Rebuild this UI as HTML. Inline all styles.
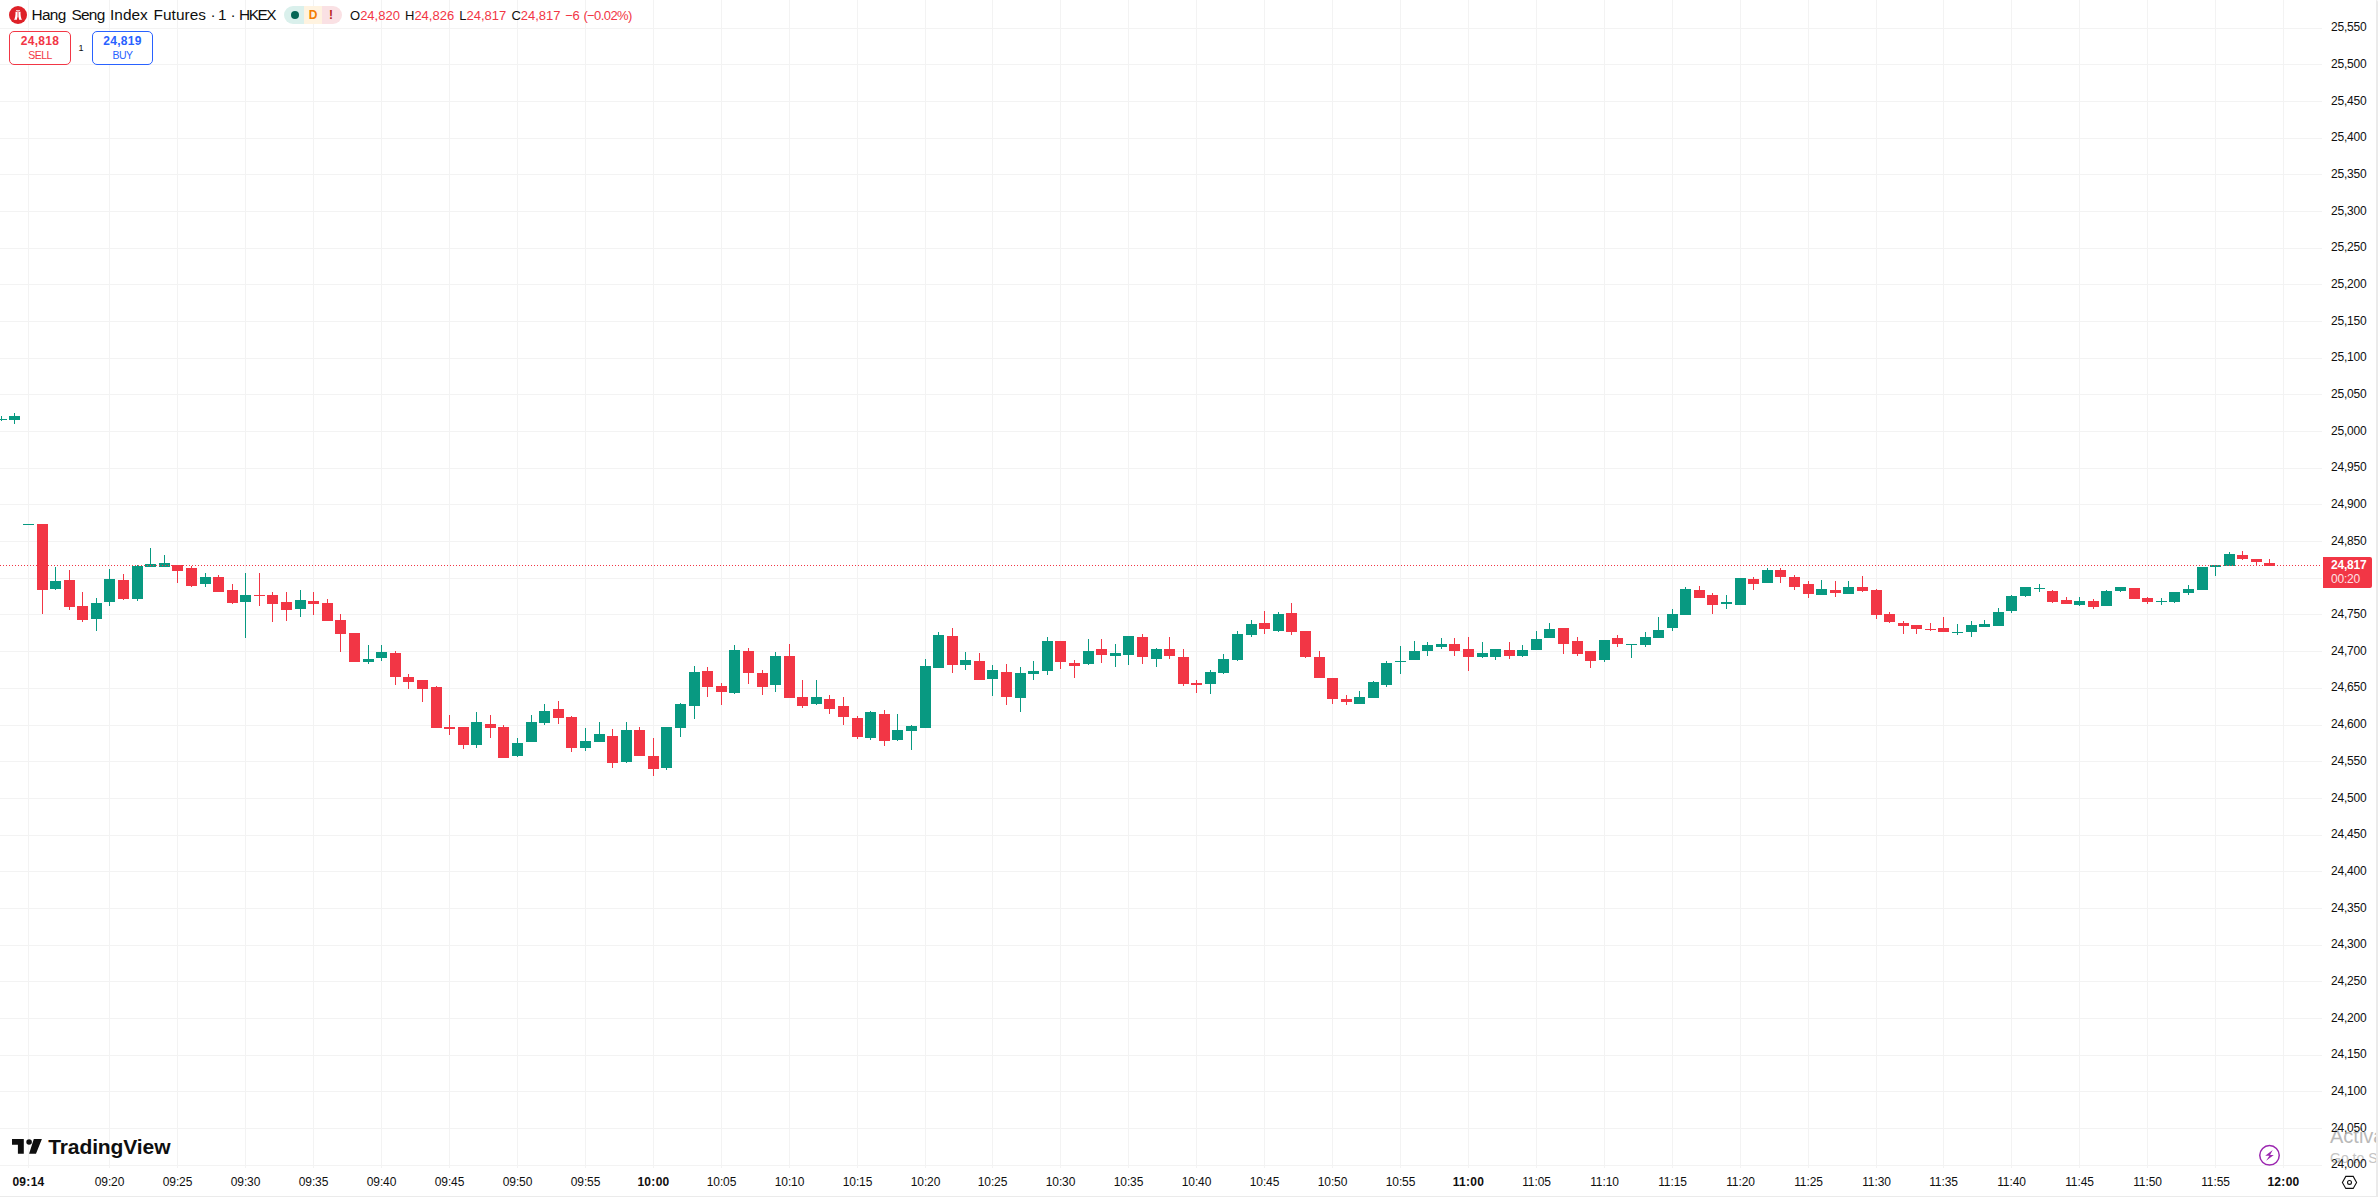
<!DOCTYPE html>
<html><head><meta charset="utf-8"><title>HSI1! chart</title>
<style>
html,body{margin:0;padding:0;background:#fff;}
body{width:2378px;height:1199px;overflow:hidden;position:relative;font-family:"Liberation Sans",sans-serif;color:#0f0f0f;}
#frame{position:absolute;left:0;top:0;width:2376px;height:1196px;background:#fff;border-right:2px solid #ebebeb;border-bottom:1px solid #ebebeb;border-top-right-radius:2px;overflow:hidden;}
svg{position:absolute;left:0;top:0;}
.pl{position:absolute;left:2321.5px;width:45px;text-align:right;font-size:12px;line-height:16px;height:16px;letter-spacing:-0.2px;white-space:nowrap;}
.tl{position:absolute;top:1174px;width:60px;text-align:center;font-size:12px;line-height:16px;white-space:nowrap;letter-spacing:-0.1px;}
.tl.b{font-weight:bold;letter-spacing:0.3px;}
#axisbg{position:absolute;left:2322px;top:0;width:54px;height:1168px;background:#fff;}
#timebg{position:absolute;left:0;top:1168px;width:2376px;height:28px;background:#fff;}
#last{position:absolute;left:2323px;top:557px;width:49px;height:31px;background:#f23645;color:#fff;border-radius:0 2px 2px 0;font-size:12px;line-height:14px;}
#last div{position:absolute;left:8px;white-space:nowrap;letter-spacing:-0.2px;}
#title{position:absolute;left:31.5px;top:6.4px;font-size:15.4px;line-height:18px;white-space:nowrap;}
#title span{position:absolute;top:0;}
#ohlc span{position:absolute;top:0;}
#logo{position:absolute;left:9px;top:6px;}
#pill{position:absolute;left:284px;top:6px;width:58px;height:18px;border-radius:9px;overflow:hidden;display:flex;}
#pill div{height:18px;position:relative;}
#ohlc{position:absolute;left:350px;top:8px;font-size:13px;line-height:16px;white-space:nowrap;color:#f23645;}
#ohlc i{font-style:normal;color:#0f0f0f;}
.btn{position:absolute;top:31px;height:32px;width:60px;border:1px solid;border-radius:5px;text-align:center;background:#fff;}
.btn .p{font-size:12px;line-height:14px;margin-top:2px;font-weight:bold;letter-spacing:0.3px;}
.btn .s{font-size:10.5px;line-height:12px;margin-top:0.5px;letter-spacing:-0.5px;}
#qty{position:absolute;left:75.500px;top:41.500px;width:11px;text-align:center;font-size:9px;line-height:12px;}
#tv{position:absolute;left:12px;top:1136px;height:22px;}
#tvt{position:absolute;left:48.2px;top:1134.6px;font-size:21px;line-height:24px;font-weight:bold;color:#0f0f0f;white-space:nowrap;letter-spacing:-0.1px;}
#wm1{position:absolute;left:2330px;top:1123px;font-size:20px;line-height:26px;color:#b9b9b9;white-space:nowrap;}
#wm2{position:absolute;left:2330px;top:1148.5px;font-size:14px;line-height:18px;color:#c4c4c4;white-space:nowrap;}
</style></head><body>
<div id="frame">
<svg width="2378" height="1199" viewBox="0 0 2378 1199" shape-rendering="crispEdges">
<rect x="0" y="28" width="2322" height="1" fill="#f3f3f3"/>
<rect x="0" y="64" width="2322" height="1" fill="#f3f3f3"/>
<rect x="0" y="101" width="2322" height="1" fill="#f3f3f3"/>
<rect x="0" y="138" width="2322" height="1" fill="#f3f3f3"/>
<rect x="0" y="174" width="2322" height="1" fill="#f3f3f3"/>
<rect x="0" y="211" width="2322" height="1" fill="#f3f3f3"/>
<rect x="0" y="248" width="2322" height="1" fill="#f3f3f3"/>
<rect x="0" y="284" width="2322" height="1" fill="#f3f3f3"/>
<rect x="0" y="321" width="2322" height="1" fill="#f3f3f3"/>
<rect x="0" y="358" width="2322" height="1" fill="#f3f3f3"/>
<rect x="0" y="394" width="2322" height="1" fill="#f3f3f3"/>
<rect x="0" y="431" width="2322" height="1" fill="#f3f3f3"/>
<rect x="0" y="468" width="2322" height="1" fill="#f3f3f3"/>
<rect x="0" y="504" width="2322" height="1" fill="#f3f3f3"/>
<rect x="0" y="541" width="2322" height="1" fill="#f3f3f3"/>
<rect x="0" y="578" width="2322" height="1" fill="#f3f3f3"/>
<rect x="0" y="614" width="2322" height="1" fill="#f3f3f3"/>
<rect x="0" y="651" width="2322" height="1" fill="#f3f3f3"/>
<rect x="0" y="688" width="2322" height="1" fill="#f3f3f3"/>
<rect x="0" y="725" width="2322" height="1" fill="#f3f3f3"/>
<rect x="0" y="761" width="2322" height="1" fill="#f3f3f3"/>
<rect x="0" y="798" width="2322" height="1" fill="#f3f3f3"/>
<rect x="0" y="835" width="2322" height="1" fill="#f3f3f3"/>
<rect x="0" y="871" width="2322" height="1" fill="#f3f3f3"/>
<rect x="0" y="908" width="2322" height="1" fill="#f3f3f3"/>
<rect x="0" y="945" width="2322" height="1" fill="#f3f3f3"/>
<rect x="0" y="981" width="2322" height="1" fill="#f3f3f3"/>
<rect x="0" y="1018" width="2322" height="1" fill="#f3f3f3"/>
<rect x="0" y="1055" width="2322" height="1" fill="#f3f3f3"/>
<rect x="0" y="1091" width="2322" height="1" fill="#f3f3f3"/>
<rect x="0" y="1128" width="2322" height="1" fill="#f3f3f3"/>
<rect x="0" y="1165" width="2322" height="1" fill="#f3f3f3"/>
<rect x="28" y="0" width="1" height="1168" fill="#f3f3f3"/>
<rect x="109" y="0" width="1" height="1168" fill="#f3f3f3"/>
<rect x="177" y="0" width="1" height="1168" fill="#f3f3f3"/>
<rect x="245" y="0" width="1" height="1168" fill="#f3f3f3"/>
<rect x="313" y="0" width="1" height="1168" fill="#f3f3f3"/>
<rect x="381" y="0" width="1" height="1168" fill="#f3f3f3"/>
<rect x="449" y="0" width="1" height="1168" fill="#f3f3f3"/>
<rect x="517" y="0" width="1" height="1168" fill="#f3f3f3"/>
<rect x="585" y="0" width="1" height="1168" fill="#f3f3f3"/>
<rect x="653" y="0" width="1" height="1168" fill="#f3f3f3"/>
<rect x="721" y="0" width="1" height="1168" fill="#f3f3f3"/>
<rect x="789" y="0" width="1" height="1168" fill="#f3f3f3"/>
<rect x="857" y="0" width="1" height="1168" fill="#f3f3f3"/>
<rect x="925" y="0" width="1" height="1168" fill="#f3f3f3"/>
<rect x="992" y="0" width="1" height="1168" fill="#f3f3f3"/>
<rect x="1060" y="0" width="1" height="1168" fill="#f3f3f3"/>
<rect x="1128" y="0" width="1" height="1168" fill="#f3f3f3"/>
<rect x="1196" y="0" width="1" height="1168" fill="#f3f3f3"/>
<rect x="1264" y="0" width="1" height="1168" fill="#f3f3f3"/>
<rect x="1332" y="0" width="1" height="1168" fill="#f3f3f3"/>
<rect x="1400" y="0" width="1" height="1168" fill="#f3f3f3"/>
<rect x="1468" y="0" width="1" height="1168" fill="#f3f3f3"/>
<rect x="1536" y="0" width="1" height="1168" fill="#f3f3f3"/>
<rect x="1604" y="0" width="1" height="1168" fill="#f3f3f3"/>
<rect x="1672" y="0" width="1" height="1168" fill="#f3f3f3"/>
<rect x="1740" y="0" width="1" height="1168" fill="#f3f3f3"/>
<rect x="1808" y="0" width="1" height="1168" fill="#f3f3f3"/>
<rect x="1876" y="0" width="1" height="1168" fill="#f3f3f3"/>
<rect x="1943" y="0" width="1" height="1168" fill="#f3f3f3"/>
<rect x="2011" y="0" width="1" height="1168" fill="#f3f3f3"/>
<rect x="2079" y="0" width="1" height="1168" fill="#f3f3f3"/>
<rect x="2147" y="0" width="1" height="1168" fill="#f3f3f3"/>
<rect x="2215" y="0" width="1" height="1168" fill="#f3f3f3"/>
<rect x="2283" y="0" width="1" height="1168" fill="#f3f3f3"/>
<rect x="1" y="416" width="1" height="5" fill="#089981"/>
<rect x="-4" y="419" width="11" height="1" fill="#089981"/>
<rect x="14" y="413" width="1" height="11" fill="#089981"/>
<rect x="9" y="416" width="11" height="4" fill="#089981"/>
<rect x="28" y="524" width="1" height="1" fill="#089981"/>
<rect x="23" y="524" width="11" height="1" fill="#089981"/>
<rect x="42" y="524" width="1" height="90" fill="#f23645"/>
<rect x="37" y="524" width="11" height="66" fill="#f23645"/>
<rect x="55" y="567" width="1" height="23" fill="#089981"/>
<rect x="50" y="581" width="11" height="8" fill="#089981"/>
<rect x="69" y="570" width="1" height="40" fill="#f23645"/>
<rect x="64" y="580" width="11" height="27" fill="#f23645"/>
<rect x="82" y="592" width="1" height="30" fill="#f23645"/>
<rect x="77" y="606" width="11" height="14" fill="#f23645"/>
<rect x="96" y="598" width="1" height="33" fill="#089981"/>
<rect x="91" y="603" width="11" height="16" fill="#089981"/>
<rect x="109" y="569" width="1" height="37" fill="#089981"/>
<rect x="104" y="579" width="11" height="23" fill="#089981"/>
<rect x="123" y="574" width="1" height="26" fill="#f23645"/>
<rect x="118" y="580" width="11" height="19" fill="#f23645"/>
<rect x="137" y="565" width="1" height="36" fill="#089981"/>
<rect x="132" y="566" width="11" height="33" fill="#089981"/>
<rect x="150" y="548" width="1" height="19" fill="#089981"/>
<rect x="145" y="564" width="11" height="3" fill="#089981"/>
<rect x="164" y="555" width="1" height="12" fill="#089981"/>
<rect x="159" y="563" width="11" height="4" fill="#089981"/>
<rect x="177" y="565" width="1" height="18" fill="#f23645"/>
<rect x="172" y="565" width="11" height="6" fill="#f23645"/>
<rect x="191" y="566" width="1" height="21" fill="#f23645"/>
<rect x="186" y="568" width="11" height="18" fill="#f23645"/>
<rect x="205" y="573" width="1" height="14" fill="#089981"/>
<rect x="200" y="577" width="11" height="7" fill="#089981"/>
<rect x="218" y="575" width="1" height="17" fill="#f23645"/>
<rect x="213" y="577" width="11" height="15" fill="#f23645"/>
<rect x="232" y="584" width="1" height="20" fill="#f23645"/>
<rect x="227" y="590" width="11" height="13" fill="#f23645"/>
<rect x="245" y="573" width="1" height="65" fill="#089981"/>
<rect x="240" y="595" width="11" height="7" fill="#089981"/>
<rect x="259" y="573" width="1" height="33" fill="#f23645"/>
<rect x="254" y="595" width="11" height="1" fill="#f23645"/>
<rect x="272" y="592" width="1" height="30" fill="#f23645"/>
<rect x="267" y="595" width="11" height="9" fill="#f23645"/>
<rect x="286" y="592" width="1" height="29" fill="#f23645"/>
<rect x="281" y="602" width="11" height="8" fill="#f23645"/>
<rect x="300" y="590" width="1" height="27" fill="#089981"/>
<rect x="295" y="600" width="11" height="9" fill="#089981"/>
<rect x="313" y="592" width="1" height="23" fill="#f23645"/>
<rect x="308" y="601" width="11" height="3" fill="#f23645"/>
<rect x="327" y="599" width="1" height="22" fill="#f23645"/>
<rect x="322" y="603" width="11" height="18" fill="#f23645"/>
<rect x="340" y="614" width="1" height="38" fill="#f23645"/>
<rect x="335" y="620" width="11" height="14" fill="#f23645"/>
<rect x="354" y="633" width="1" height="29" fill="#f23645"/>
<rect x="349" y="633" width="11" height="29" fill="#f23645"/>
<rect x="368" y="645" width="1" height="19" fill="#089981"/>
<rect x="363" y="659" width="11" height="3" fill="#089981"/>
<rect x="381" y="645" width="1" height="16" fill="#089981"/>
<rect x="376" y="652" width="11" height="6" fill="#089981"/>
<rect x="395" y="651" width="1" height="34" fill="#f23645"/>
<rect x="390" y="653" width="11" height="24" fill="#f23645"/>
<rect x="408" y="674" width="1" height="15" fill="#f23645"/>
<rect x="403" y="677" width="11" height="5" fill="#f23645"/>
<rect x="422" y="680" width="1" height="22" fill="#f23645"/>
<rect x="417" y="680" width="11" height="9" fill="#f23645"/>
<rect x="436" y="686" width="1" height="42" fill="#f23645"/>
<rect x="431" y="687" width="11" height="41" fill="#f23645"/>
<rect x="449" y="715" width="1" height="20" fill="#f23645"/>
<rect x="444" y="727" width="11" height="2" fill="#f23645"/>
<rect x="463" y="727" width="1" height="22" fill="#f23645"/>
<rect x="458" y="727" width="11" height="18" fill="#f23645"/>
<rect x="476" y="712" width="1" height="36" fill="#089981"/>
<rect x="471" y="722" width="11" height="23" fill="#089981"/>
<rect x="490" y="715" width="1" height="23" fill="#f23645"/>
<rect x="485" y="724" width="11" height="4" fill="#f23645"/>
<rect x="503" y="725" width="1" height="33" fill="#f23645"/>
<rect x="498" y="727" width="11" height="31" fill="#f23645"/>
<rect x="517" y="738" width="1" height="19" fill="#089981"/>
<rect x="512" y="743" width="11" height="13" fill="#089981"/>
<rect x="531" y="715" width="1" height="27" fill="#089981"/>
<rect x="526" y="722" width="11" height="20" fill="#089981"/>
<rect x="544" y="704" width="1" height="21" fill="#089981"/>
<rect x="539" y="711" width="11" height="12" fill="#089981"/>
<rect x="558" y="701" width="1" height="23" fill="#f23645"/>
<rect x="553" y="709" width="11" height="9" fill="#f23645"/>
<rect x="571" y="716" width="1" height="36" fill="#f23645"/>
<rect x="566" y="717" width="11" height="31" fill="#f23645"/>
<rect x="585" y="728" width="1" height="23" fill="#089981"/>
<rect x="580" y="741" width="11" height="7" fill="#089981"/>
<rect x="599" y="722" width="1" height="20" fill="#089981"/>
<rect x="594" y="734" width="11" height="8" fill="#089981"/>
<rect x="612" y="729" width="1" height="39" fill="#f23645"/>
<rect x="607" y="736" width="11" height="27" fill="#f23645"/>
<rect x="626" y="722" width="1" height="41" fill="#089981"/>
<rect x="621" y="730" width="11" height="32" fill="#089981"/>
<rect x="639" y="727" width="1" height="29" fill="#f23645"/>
<rect x="634" y="730" width="11" height="26" fill="#f23645"/>
<rect x="653" y="738" width="1" height="38" fill="#f23645"/>
<rect x="648" y="756" width="11" height="13" fill="#f23645"/>
<rect x="666" y="727" width="1" height="43" fill="#089981"/>
<rect x="661" y="727" width="11" height="41" fill="#089981"/>
<rect x="680" y="703" width="1" height="34" fill="#089981"/>
<rect x="675" y="704" width="11" height="24" fill="#089981"/>
<rect x="694" y="666" width="1" height="53" fill="#089981"/>
<rect x="689" y="672" width="11" height="34" fill="#089981"/>
<rect x="707" y="667" width="1" height="30" fill="#f23645"/>
<rect x="702" y="671" width="11" height="16" fill="#f23645"/>
<rect x="721" y="683" width="1" height="22" fill="#f23645"/>
<rect x="716" y="686" width="11" height="6" fill="#f23645"/>
<rect x="734" y="645" width="1" height="49" fill="#089981"/>
<rect x="729" y="650" width="11" height="43" fill="#089981"/>
<rect x="748" y="648" width="1" height="36" fill="#f23645"/>
<rect x="743" y="651" width="11" height="22" fill="#f23645"/>
<rect x="762" y="670" width="1" height="25" fill="#f23645"/>
<rect x="757" y="673" width="11" height="14" fill="#f23645"/>
<rect x="775" y="652" width="1" height="40" fill="#089981"/>
<rect x="770" y="656" width="11" height="29" fill="#089981"/>
<rect x="789" y="644" width="1" height="54" fill="#f23645"/>
<rect x="784" y="656" width="11" height="42" fill="#f23645"/>
<rect x="802" y="680" width="1" height="28" fill="#f23645"/>
<rect x="797" y="697" width="11" height="9" fill="#f23645"/>
<rect x="816" y="680" width="1" height="25" fill="#089981"/>
<rect x="811" y="697" width="11" height="7" fill="#089981"/>
<rect x="829" y="695" width="1" height="19" fill="#f23645"/>
<rect x="824" y="699" width="11" height="10" fill="#f23645"/>
<rect x="843" y="697" width="1" height="28" fill="#f23645"/>
<rect x="838" y="706" width="11" height="11" fill="#f23645"/>
<rect x="857" y="716" width="1" height="23" fill="#f23645"/>
<rect x="852" y="718" width="11" height="19" fill="#f23645"/>
<rect x="870" y="711" width="1" height="29" fill="#089981"/>
<rect x="865" y="712" width="11" height="26" fill="#089981"/>
<rect x="884" y="710" width="1" height="36" fill="#f23645"/>
<rect x="879" y="714" width="11" height="27" fill="#f23645"/>
<rect x="897" y="714" width="1" height="27" fill="#089981"/>
<rect x="892" y="730" width="11" height="10" fill="#089981"/>
<rect x="911" y="725" width="1" height="25" fill="#089981"/>
<rect x="906" y="726" width="11" height="5" fill="#089981"/>
<rect x="925" y="659" width="1" height="69" fill="#089981"/>
<rect x="920" y="666" width="11" height="62" fill="#089981"/>
<rect x="938" y="632" width="1" height="36" fill="#089981"/>
<rect x="933" y="635" width="11" height="33" fill="#089981"/>
<rect x="952" y="628" width="1" height="45" fill="#f23645"/>
<rect x="947" y="636" width="11" height="29" fill="#f23645"/>
<rect x="965" y="652" width="1" height="18" fill="#089981"/>
<rect x="960" y="660" width="11" height="5" fill="#089981"/>
<rect x="979" y="653" width="1" height="27" fill="#f23645"/>
<rect x="974" y="661" width="11" height="19" fill="#f23645"/>
<rect x="992" y="665" width="1" height="31" fill="#089981"/>
<rect x="987" y="670" width="11" height="9" fill="#089981"/>
<rect x="1006" y="664" width="1" height="41" fill="#f23645"/>
<rect x="1001" y="672" width="11" height="25" fill="#f23645"/>
<rect x="1020" y="667" width="1" height="45" fill="#089981"/>
<rect x="1015" y="673" width="11" height="25" fill="#089981"/>
<rect x="1033" y="661" width="1" height="19" fill="#089981"/>
<rect x="1028" y="671" width="11" height="3" fill="#089981"/>
<rect x="1047" y="637" width="1" height="38" fill="#089981"/>
<rect x="1042" y="641" width="11" height="30" fill="#089981"/>
<rect x="1060" y="641" width="1" height="28" fill="#f23645"/>
<rect x="1055" y="641" width="11" height="21" fill="#f23645"/>
<rect x="1074" y="660" width="1" height="18" fill="#f23645"/>
<rect x="1069" y="663" width="11" height="3" fill="#f23645"/>
<rect x="1088" y="639" width="1" height="26" fill="#089981"/>
<rect x="1083" y="651" width="11" height="13" fill="#089981"/>
<rect x="1101" y="639" width="1" height="24" fill="#f23645"/>
<rect x="1096" y="649" width="11" height="6" fill="#f23645"/>
<rect x="1115" y="644" width="1" height="23" fill="#089981"/>
<rect x="1110" y="653" width="11" height="3" fill="#089981"/>
<rect x="1128" y="636" width="1" height="29" fill="#089981"/>
<rect x="1123" y="636" width="11" height="19" fill="#089981"/>
<rect x="1142" y="634" width="1" height="30" fill="#f23645"/>
<rect x="1137" y="637" width="11" height="20" fill="#f23645"/>
<rect x="1156" y="648" width="1" height="19" fill="#089981"/>
<rect x="1151" y="649" width="11" height="10" fill="#089981"/>
<rect x="1169" y="637" width="1" height="22" fill="#f23645"/>
<rect x="1164" y="649" width="11" height="7" fill="#f23645"/>
<rect x="1183" y="649" width="1" height="37" fill="#f23645"/>
<rect x="1178" y="657" width="11" height="27" fill="#f23645"/>
<rect x="1196" y="680" width="1" height="13" fill="#f23645"/>
<rect x="1191" y="683" width="11" height="2" fill="#f23645"/>
<rect x="1210" y="670" width="1" height="24" fill="#089981"/>
<rect x="1205" y="672" width="11" height="12" fill="#089981"/>
<rect x="1223" y="654" width="1" height="20" fill="#089981"/>
<rect x="1218" y="659" width="11" height="14" fill="#089981"/>
<rect x="1237" y="631" width="1" height="30" fill="#089981"/>
<rect x="1232" y="634" width="11" height="26" fill="#089981"/>
<rect x="1251" y="620" width="1" height="17" fill="#089981"/>
<rect x="1246" y="624" width="11" height="11" fill="#089981"/>
<rect x="1264" y="611" width="1" height="23" fill="#f23645"/>
<rect x="1259" y="623" width="11" height="6" fill="#f23645"/>
<rect x="1278" y="612" width="1" height="20" fill="#089981"/>
<rect x="1273" y="614" width="11" height="17" fill="#089981"/>
<rect x="1291" y="603" width="1" height="32" fill="#f23645"/>
<rect x="1286" y="613" width="11" height="19" fill="#f23645"/>
<rect x="1305" y="631" width="1" height="27" fill="#f23645"/>
<rect x="1300" y="631" width="11" height="26" fill="#f23645"/>
<rect x="1319" y="651" width="1" height="27" fill="#f23645"/>
<rect x="1314" y="657" width="11" height="21" fill="#f23645"/>
<rect x="1332" y="678" width="1" height="26" fill="#f23645"/>
<rect x="1327" y="678" width="11" height="21" fill="#f23645"/>
<rect x="1346" y="695" width="1" height="10" fill="#f23645"/>
<rect x="1341" y="699" width="11" height="3" fill="#f23645"/>
<rect x="1359" y="691" width="1" height="13" fill="#089981"/>
<rect x="1354" y="697" width="11" height="7" fill="#089981"/>
<rect x="1373" y="681" width="1" height="17" fill="#089981"/>
<rect x="1368" y="682" width="11" height="16" fill="#089981"/>
<rect x="1386" y="661" width="1" height="26" fill="#089981"/>
<rect x="1381" y="663" width="11" height="22" fill="#089981"/>
<rect x="1400" y="646" width="1" height="28" fill="#089981"/>
<rect x="1395" y="661" width="11" height="1" fill="#089981"/>
<rect x="1414" y="641" width="1" height="19" fill="#089981"/>
<rect x="1409" y="651" width="11" height="9" fill="#089981"/>
<rect x="1427" y="642" width="1" height="14" fill="#089981"/>
<rect x="1422" y="645" width="11" height="6" fill="#089981"/>
<rect x="1441" y="638" width="1" height="11" fill="#089981"/>
<rect x="1436" y="644" width="11" height="3" fill="#089981"/>
<rect x="1454" y="638" width="1" height="18" fill="#f23645"/>
<rect x="1449" y="644" width="11" height="7" fill="#f23645"/>
<rect x="1468" y="637" width="1" height="34" fill="#f23645"/>
<rect x="1463" y="649" width="11" height="8" fill="#f23645"/>
<rect x="1482" y="642" width="1" height="16" fill="#089981"/>
<rect x="1477" y="653" width="11" height="4" fill="#089981"/>
<rect x="1495" y="649" width="1" height="11" fill="#089981"/>
<rect x="1490" y="649" width="11" height="8" fill="#089981"/>
<rect x="1509" y="642" width="1" height="17" fill="#f23645"/>
<rect x="1504" y="650" width="11" height="6" fill="#f23645"/>
<rect x="1522" y="645" width="1" height="12" fill="#089981"/>
<rect x="1517" y="650" width="11" height="6" fill="#089981"/>
<rect x="1536" y="631" width="1" height="19" fill="#089981"/>
<rect x="1531" y="639" width="11" height="11" fill="#089981"/>
<rect x="1549" y="623" width="1" height="15" fill="#089981"/>
<rect x="1544" y="629" width="11" height="9" fill="#089981"/>
<rect x="1563" y="628" width="1" height="26" fill="#f23645"/>
<rect x="1558" y="628" width="11" height="16" fill="#f23645"/>
<rect x="1577" y="637" width="1" height="19" fill="#f23645"/>
<rect x="1572" y="641" width="11" height="13" fill="#f23645"/>
<rect x="1590" y="651" width="1" height="17" fill="#f23645"/>
<rect x="1585" y="651" width="11" height="10" fill="#f23645"/>
<rect x="1604" y="640" width="1" height="22" fill="#089981"/>
<rect x="1599" y="640" width="11" height="20" fill="#089981"/>
<rect x="1617" y="635" width="1" height="12" fill="#f23645"/>
<rect x="1612" y="638" width="11" height="6" fill="#f23645"/>
<rect x="1631" y="644" width="1" height="14" fill="#089981"/>
<rect x="1626" y="644" width="11" height="1" fill="#089981"/>
<rect x="1645" y="632" width="1" height="15" fill="#089981"/>
<rect x="1640" y="637" width="11" height="8" fill="#089981"/>
<rect x="1658" y="617" width="1" height="21" fill="#089981"/>
<rect x="1653" y="630" width="11" height="8" fill="#089981"/>
<rect x="1672" y="609" width="1" height="22" fill="#089981"/>
<rect x="1667" y="614" width="11" height="14" fill="#089981"/>
<rect x="1685" y="587" width="1" height="28" fill="#089981"/>
<rect x="1680" y="589" width="11" height="26" fill="#089981"/>
<rect x="1699" y="586" width="1" height="12" fill="#f23645"/>
<rect x="1694" y="590" width="11" height="8" fill="#f23645"/>
<rect x="1712" y="593" width="1" height="21" fill="#f23645"/>
<rect x="1707" y="595" width="11" height="10" fill="#f23645"/>
<rect x="1726" y="595" width="1" height="14" fill="#089981"/>
<rect x="1721" y="602" width="11" height="2" fill="#089981"/>
<rect x="1740" y="578" width="1" height="27" fill="#089981"/>
<rect x="1735" y="578" width="11" height="27" fill="#089981"/>
<rect x="1753" y="577" width="1" height="13" fill="#f23645"/>
<rect x="1748" y="579" width="11" height="5" fill="#f23645"/>
<rect x="1767" y="568" width="1" height="15" fill="#089981"/>
<rect x="1762" y="570" width="11" height="13" fill="#089981"/>
<rect x="1780" y="568" width="1" height="15" fill="#f23645"/>
<rect x="1775" y="570" width="11" height="7" fill="#f23645"/>
<rect x="1794" y="575" width="1" height="15" fill="#f23645"/>
<rect x="1789" y="577" width="11" height="10" fill="#f23645"/>
<rect x="1808" y="581" width="1" height="17" fill="#f23645"/>
<rect x="1803" y="584" width="11" height="10" fill="#f23645"/>
<rect x="1821" y="580" width="1" height="15" fill="#089981"/>
<rect x="1816" y="589" width="11" height="6" fill="#089981"/>
<rect x="1835" y="581" width="1" height="16" fill="#f23645"/>
<rect x="1830" y="590" width="11" height="3" fill="#f23645"/>
<rect x="1848" y="581" width="1" height="13" fill="#089981"/>
<rect x="1843" y="587" width="11" height="7" fill="#089981"/>
<rect x="1862" y="576" width="1" height="16" fill="#f23645"/>
<rect x="1857" y="587" width="11" height="4" fill="#f23645"/>
<rect x="1876" y="589" width="1" height="30" fill="#f23645"/>
<rect x="1871" y="590" width="11" height="25" fill="#f23645"/>
<rect x="1889" y="612" width="1" height="11" fill="#f23645"/>
<rect x="1884" y="614" width="11" height="8" fill="#f23645"/>
<rect x="1903" y="621" width="1" height="13" fill="#f23645"/>
<rect x="1898" y="623" width="11" height="3" fill="#f23645"/>
<rect x="1916" y="625" width="1" height="9" fill="#f23645"/>
<rect x="1911" y="625" width="11" height="4" fill="#f23645"/>
<rect x="1930" y="623" width="1" height="8" fill="#f23645"/>
<rect x="1925" y="629" width="11" height="1" fill="#f23645"/>
<rect x="1943" y="617" width="1" height="15" fill="#f23645"/>
<rect x="1938" y="628" width="11" height="4" fill="#f23645"/>
<rect x="1957" y="624" width="1" height="11" fill="#089981"/>
<rect x="1952" y="632" width="11" height="1" fill="#089981"/>
<rect x="1971" y="621" width="1" height="16" fill="#089981"/>
<rect x="1966" y="625" width="11" height="7" fill="#089981"/>
<rect x="1984" y="620" width="1" height="7" fill="#089981"/>
<rect x="1979" y="624" width="11" height="3" fill="#089981"/>
<rect x="1998" y="608" width="1" height="18" fill="#089981"/>
<rect x="1993" y="612" width="11" height="14" fill="#089981"/>
<rect x="2011" y="595" width="1" height="18" fill="#089981"/>
<rect x="2006" y="596" width="11" height="15" fill="#089981"/>
<rect x="2025" y="587" width="1" height="10" fill="#089981"/>
<rect x="2020" y="587" width="11" height="9" fill="#089981"/>
<rect x="2039" y="584" width="1" height="8" fill="#089981"/>
<rect x="2034" y="588" width="11" height="1" fill="#089981"/>
<rect x="2052" y="590" width="1" height="13" fill="#f23645"/>
<rect x="2047" y="591" width="11" height="11" fill="#f23645"/>
<rect x="2066" y="597" width="1" height="7" fill="#f23645"/>
<rect x="2061" y="600" width="11" height="4" fill="#f23645"/>
<rect x="2079" y="597" width="1" height="9" fill="#089981"/>
<rect x="2074" y="601" width="11" height="4" fill="#089981"/>
<rect x="2093" y="599" width="1" height="10" fill="#f23645"/>
<rect x="2088" y="601" width="11" height="6" fill="#f23645"/>
<rect x="2106" y="590" width="1" height="16" fill="#089981"/>
<rect x="2101" y="591" width="11" height="15" fill="#089981"/>
<rect x="2120" y="587" width="1" height="5" fill="#089981"/>
<rect x="2115" y="587" width="11" height="4" fill="#089981"/>
<rect x="2134" y="588" width="1" height="11" fill="#f23645"/>
<rect x="2129" y="588" width="11" height="11" fill="#f23645"/>
<rect x="2147" y="597" width="1" height="7" fill="#f23645"/>
<rect x="2142" y="598" width="11" height="4" fill="#f23645"/>
<rect x="2161" y="598" width="1" height="7" fill="#089981"/>
<rect x="2156" y="601" width="11" height="1" fill="#089981"/>
<rect x="2174" y="592" width="1" height="11" fill="#089981"/>
<rect x="2169" y="592" width="11" height="10" fill="#089981"/>
<rect x="2188" y="585" width="1" height="10" fill="#089981"/>
<rect x="2183" y="589" width="11" height="4" fill="#089981"/>
<rect x="2202" y="567" width="1" height="23" fill="#089981"/>
<rect x="2197" y="567" width="11" height="23" fill="#089981"/>
<rect x="2215" y="565" width="1" height="11" fill="#089981"/>
<rect x="2210" y="565" width="11" height="2" fill="#089981"/>
<rect x="2229" y="552" width="1" height="14" fill="#089981"/>
<rect x="2224" y="554" width="11" height="12" fill="#089981"/>
<rect x="2242" y="551" width="1" height="9" fill="#f23645"/>
<rect x="2237" y="555" width="11" height="4" fill="#f23645"/>
<rect x="2256" y="559" width="1" height="7" fill="#f23645"/>
<rect x="2251" y="559" width="11" height="3" fill="#f23645"/>
<rect x="2269" y="559" width="1" height="7" fill="#f23645"/>
<rect x="2264" y="563" width="11" height="3" fill="#f23645"/>
<line x1="0" y1="565.5" x2="2322" y2="565.5" stroke="#f23645" stroke-width="1" stroke-dasharray="1 2"/>
</svg>
<div id="axisbg"></div>
<div id="wm1">Activate Windows</div>
<div id="wm2">Go to Settings to activate Windows.</div>
<div id="timebg"></div>
<div class="pl" style="top:19px">25,550</div>
<div class="pl" style="top:56px">25,500</div>
<div class="pl" style="top:93px">25,450</div>
<div class="pl" style="top:129px">25,400</div>
<div class="pl" style="top:166px">25,350</div>
<div class="pl" style="top:203px">25,300</div>
<div class="pl" style="top:239px">25,250</div>
<div class="pl" style="top:276px">25,200</div>
<div class="pl" style="top:313px">25,150</div>
<div class="pl" style="top:349px">25,100</div>
<div class="pl" style="top:386px">25,050</div>
<div class="pl" style="top:423px">25,000</div>
<div class="pl" style="top:459px">24,950</div>
<div class="pl" style="top:496px">24,900</div>
<div class="pl" style="top:533px">24,850</div>
<div class="pl" style="top:569px">24,800</div>
<div class="pl" style="top:606px">24,750</div>
<div class="pl" style="top:643px">24,700</div>
<div class="pl" style="top:679px">24,650</div>
<div class="pl" style="top:716px">24,600</div>
<div class="pl" style="top:753px">24,550</div>
<div class="pl" style="top:790px">24,500</div>
<div class="pl" style="top:826px">24,450</div>
<div class="pl" style="top:863px">24,400</div>
<div class="pl" style="top:900px">24,350</div>
<div class="pl" style="top:936px">24,300</div>
<div class="pl" style="top:973px">24,250</div>
<div class="pl" style="top:1010px">24,200</div>
<div class="pl" style="top:1046px">24,150</div>
<div class="pl" style="top:1083px">24,100</div>
<div class="pl" style="top:1120px">24,050</div>
<div class="pl" style="top:1156px">24,000</div>
<div class="tl b" style="left:-1.5px">09:14</div>
<div class="tl" style="left:79.5px">09:20</div>
<div class="tl" style="left:147.5px">09:25</div>
<div class="tl" style="left:215.5px">09:30</div>
<div class="tl" style="left:283.5px">09:35</div>
<div class="tl" style="left:351.5px">09:40</div>
<div class="tl" style="left:419.5px">09:45</div>
<div class="tl" style="left:487.5px">09:50</div>
<div class="tl" style="left:555.5px">09:55</div>
<div class="tl b" style="left:623.5px">10:00</div>
<div class="tl" style="left:691.5px">10:05</div>
<div class="tl" style="left:759.5px">10:10</div>
<div class="tl" style="left:827.5px">10:15</div>
<div class="tl" style="left:895.5px">10:20</div>
<div class="tl" style="left:962.5px">10:25</div>
<div class="tl" style="left:1030.5px">10:30</div>
<div class="tl" style="left:1098.5px">10:35</div>
<div class="tl" style="left:1166.5px">10:40</div>
<div class="tl" style="left:1234.5px">10:45</div>
<div class="tl" style="left:1302.5px">10:50</div>
<div class="tl" style="left:1370.5px">10:55</div>
<div class="tl b" style="left:1438.5px">11:00</div>
<div class="tl" style="left:1506.5px">11:05</div>
<div class="tl" style="left:1574.5px">11:10</div>
<div class="tl" style="left:1642.5px">11:15</div>
<div class="tl" style="left:1710.5px">11:20</div>
<div class="tl" style="left:1778.5px">11:25</div>
<div class="tl" style="left:1846.5px">11:30</div>
<div class="tl" style="left:1913.5px">11:35</div>
<div class="tl" style="left:1981.5px">11:40</div>
<div class="tl" style="left:2049.5px">11:45</div>
<div class="tl" style="left:2117.5px">11:50</div>
<div class="tl" style="left:2185.5px">11:55</div>
<div class="tl b" style="left:2253.5px">12:00</div>
<div id="last"><div style="top:1px;font-weight:bold">24,817</div><div style="top:15px;opacity:.85">00:20</div></div>
<svg id="logo" width="18" height="18" viewBox="0 0 18 18"><circle cx="9" cy="9" r="9" fill="#de2128"/><path d="M7 4h4v1H7z" fill="#fff" fill-opacity=".7"/><path d="M8.300 5h1.400v6.200L9 11.400 8.300 11.200z" fill="#fff" fill-opacity=".6"/><path d="M6.500 5.800h1.800v5.400L7.900 13.700H5l.6-.9.600-2.300.3-2.500zM11.500 5.800H9.700v5.400l.4 2.500H13l-.6-.9-.6-2.300-.3-2.500z" fill="#fff"/></svg>
<div id="title"><span style="left:0;letter-spacing:-0.65px">Hang</span> <span style="left:40.100px;letter-spacing:-0.78px">Seng</span> <span style="left:78.600px;letter-spacing:-0.02px">Index</span> <span style="left:122px;letter-spacing:0.06px">Futures</span> <span style="left:179px">·</span> <span style="left:186.600px">1</span> <span style="left:199px">·</span> <span style="left:207.500px;letter-spacing:-1.45px">HKEX</span></div>
<div id="pill"><div style="width:20px;background:#daf0ec"><span style="position:absolute;left:7px;top:5px;width:8px;height:8px;border-radius:50%;background:#056656"></span></div><div style="width:18px;background:#fff3e0;color:#f57c00;font-size:12px;font-weight:bold;line-height:18px;text-align:center">D</div><div style="width:20px;background:#fae1e4;color:#b71c1c;font-size:12px;font-weight:bold;line-height:18px;text-align:center"><span style="position:relative;left:-1px">!</span></div></div>
<div id="ohlc"><span style="left:0"><i>O</i>24,820</span> <span style="left:55px"><i>H</i>24,826</span> <span style="left:109.300px"><i>L</i>24,817</span> <span style="left:161.400px"><i>C</i>24,817</span> <span style="left:215.300px;letter-spacing:-0.5px">−6</span> <span style="left:233.400px;letter-spacing:-0.6px">(−0.02%)</span></div>
<div class="btn" style="left:9px;border-color:#f23645;color:#f23645"><div class="p">24,818</div><div class="s">SELL</div></div>
<div id="qty">1</div>
<div class="btn" style="left:92px;width:59px;border-color:#2962ff;color:#2962ff"><div class="p">24,819</div><div class="s">BUY</div></div>
<svg id="tv" width="31" height="22" viewBox="0 0 31 22"><path d="M0 3.100h11.800v14.750H5.900V8.800H0z M21.800 3.100h8.100L24 17.850h-6.900z" fill="#0f0f0f"/><circle cx="17.100" cy="6" r="2.800" fill="#0f0f0f"/></svg>
<div id="tvt">TradingView</div>
<svg style="left:2258px;top:1144px" width="23" height="23" viewBox="0 0 23 23"><circle cx="11.500" cy="11.350" r="9.750" fill="#fff" stroke="#9c27b0" stroke-width="1.500"/><path d="M14.700 6 7.200 11.700h4.200L8.100 16.800l7.700-5.700h-3.700z" fill="#9c27b0"/></svg>
<svg style="left:2340px;top:1173px" width="20" height="20" viewBox="0 0 20 20" fill="none" stroke="#0f0f0f" stroke-width="1.100"><path d="M5.800 3.400h7.400L16.600 9.400 13.200 15.400H5.800L2.400 9.400z"/><circle cx="9.500" cy="9.400" r="1.950"/></svg>

</div>
</body></html>
